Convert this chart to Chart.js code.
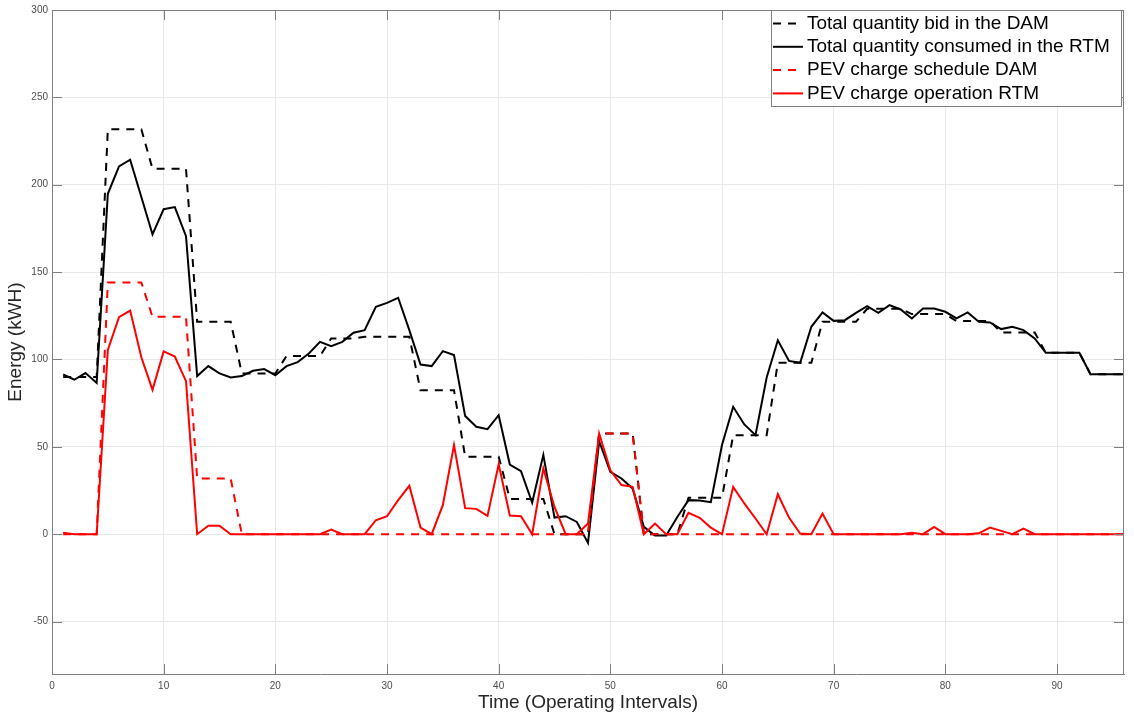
<!DOCTYPE html>
<html>
<head>
<meta charset="utf-8">
<script src="https://cdn.jsdelivr.net/npm/chart.js@4"></script>
<style>
  html, body { margin: 0; padding: 0; background: #fff; }
  #wrap { width: 1134px; height: 715px; }
</style>
</head>
<body>
<div id="wrap"><canvas id="chart" width="1134" height="715"></canvas></div>
<script>
// operating intervals 1..96
const intervals = Array.from({ length: 96 }, (_, i) => i + 1);

const damTotal = [
  89.9, 89.9, 89.9, 89.9, 231.7, 231.7, 231.7, 231.7, 209.2, 209.2, 209.2, 209.2,
  121.6, 121.6, 121.6, 121.6, 92, 92, 92, 92, 102, 102, 102, 102,
  112, 112, 112, 113, 113, 113, 113, 113, 82.4, 82.4, 82.4, 82.4,
  44.3, 44.3, 44.3, 44.3, 20.2, 20.2, 20.2, 20.2, 0, 0, 0, 0,
  57.6, 57.6, 57.6, 57.6, 0, 0, 0, 0, 20.8, 20.8, 20.8, 20.8,
  56.7, 56.7, 56.7, 56.7, 98.1, 98.1, 98.1, 98.1, 121.6, 121.6, 121.6, 121.6,
  129, 129, 129, 129, 126, 126, 126, 126, 122, 122, 122, 122,
  115.5, 115.5, 115.5, 115.5, 103.8, 103.8, 103.8, 103.8, 91.6, 91.6, 91.6, 91.6
];

const rtmTotal = [
  91.4, 88.4, 92.2, 86.6, 194.8, 210.5, 214.3, 193, 171.6, 186, 187.2, 170.6,
  90.5, 96.2, 92, 89.7, 90.5, 93.5, 94.5, 91, 96.2, 98.5, 103.4, 110.1,
  107.6, 110.1, 115.3, 116.8, 130.2, 132.4, 135.3, 116.8, 97.1, 96.2, 104.8, 102.5,
  67.6, 61.5, 60.1, 68.1, 39.9, 36.1, 18, 45.4, 9.5, 10.3, 7, -5,
  53.2, 35.7, 31.9, 26.1, 4.2, -0.8, -0.8, 9.9, 19.5, 19.3, 18.3, 51,
  72.9, 62.8, 56.7, 89.7, 111, 99.2, 98.1, 118.7, 126.9, 122.1, 122.5, 126.7,
  130.5, 126.7, 131.1, 128.6, 123.5, 129.2, 129.2, 127.3, 123.5, 126.9, 121.6, 121.2,
  117.4, 118.7, 116.8, 112, 103.8, 103.8, 103.8, 103.8, 91.6, 91.6, 91.6, 91.6
];

const pevDam = [
  0, 0, 0, 0, 144, 144, 144, 144, 124.4, 124.4, 124.4, 124.4,
  31.9, 31.9, 31.9, 31.9, 0, 0, 0, 0, 0, 0, 0, 0,
  0, 0, 0, 0, 0, 0, 0, 0, 0, 0, 0, 0,
  0, 0, 0, 0, 0, 0, 0, 0, 0, 0, 0, 0,
  57.6, 57.6, 57.6, 57.6, 0, 0, 0, 0, 0, 0, 0, 0,
  0, 0, 0, 0, 0, 0, 0, 0, 0, 0, 0, 0,
  0, 0, 0, 0, 0, 0, 0, 0, 0, 0, 0, 0,
  0, 0, 0, 0, 0, 0, 0, 0, 0, 0, 0, 0
];

const pevRtm = [
  0.8, 0, 0, 0, 105.5, 124.2, 128, 101.3, 82.6, 104.6, 101.7, 87.6,
  0, 4.8, 4.8, 0, 0, 0, 0, 0, 0, 0, 0, 0,
  2.7, 0, 0, 0, 8, 10.3, 19.5, 27.7, 3.8, 0, 16.6, 51,
  14.9, 14.5, 10.5, 40, 10.7, 10.3, 0, 37.6, 15.6, 0, 0, 6.1,
  57.6, 36.6, 28.1, 27.1, 0, 6.1, 0, 0, 12.2, 9.4, 3.8, 0,
  27.1, 17.6, 9, 0, 22.9, 9.5, 0.4, 0, 11.8, 0, 0, 0,
  0, 0, 0, 0, 0.8, 0, 4.2, 0, 0, 0, 0.5, 3.8,
  1.9, 0, 3.2, 0, 0, 0, 0, 0, 0, 0, 0, 0
];

const xTicks = [0, 10, 20, 30, 40, 50, 60, 70, 80, 90];
const yTicks = [-50, 0, 50, 100, 150, 200, 250, 300];

const FONT = '"Liberation Sans", Arial, Helvetica, sans-serif';
const AXIS = '#7f7f7f';

const toPoints = values => values.map((v, i) => ({ x: intervals[i], y: v }));

// box round the axes, with MATLAB-style ticks pointing inwards
const framePlugin = {
  id: 'frame',
  afterDatasetsDraw(chart) {
    const { ctx, chartArea: a, scales } = chart;
    ctx.save();
    ctx.strokeStyle = AXIS;
    ctx.lineWidth = 1;
    ctx.beginPath();
    ctx.moveTo(a.left, a.top + 0.5);
    ctx.lineTo(a.right, a.top + 0.5);
    ctx.moveTo(a.right - 0.5, a.top);
    ctx.lineTo(a.right - 0.5, a.bottom);
    xTicks.forEach(v => {
      const x = Math.round(scales.x.getPixelForValue(v)) + 0.5;
      ctx.moveTo(x, a.bottom);
      ctx.lineTo(x, a.bottom - 10);
      ctx.moveTo(x, a.top);
      ctx.lineTo(x, a.top + 10);
    });
    yTicks.forEach(v => {
      const y = Math.round(scales.y.getPixelForValue(v)) + 0.5;
      ctx.moveTo(a.left, y);
      ctx.lineTo(a.left + 10, y);
      ctx.moveTo(a.right, y);
      ctx.lineTo(a.right - 10, y);
    });
    ctx.stroke();
    ctx.restore();
  }
};

// boxed legend in the top right corner
const legendPlugin = {
  id: 'boxLegend',
  afterDraw(chart) {
    const { ctx } = chart;
    const box = { left: 771, top: 10, right: 1122, bottom: 107 };
    ctx.save();
    ctx.fillStyle = '#fff';
    ctx.fillRect(box.left, box.top, box.right - box.left, box.bottom - box.top);
    ctx.strokeStyle = AXIS;
    ctx.lineWidth = 1;
    ctx.strokeRect(box.left + 0.5, box.top + 0.5, box.right - box.left - 1, box.bottom - box.top - 1);
    ctx.font = '19px ' + FONT;
    ctx.textBaseline = 'middle';
    chart.data.datasets.forEach((ds, i) => {
      const y = 23.5 + i * 23.3;
      ctx.strokeStyle = ds.borderColor;
      ctx.lineWidth = ds.borderWidth;
      ctx.setLineDash(ds.borderDash || []);
      ctx.beginPath();
      ctx.moveTo(773, y);
      ctx.lineTo(803, y);
      ctx.stroke();
      ctx.setLineDash([]);
      ctx.fillStyle = '#000';
      ctx.fillText(ds.label, 807, y);
    });
    ctx.restore();
  }
};

new Chart(document.getElementById('chart'), {
  type: 'line',
  data: {
    datasets: [
      {
        label: 'Total quantity bid in the DAM',
        data: toPoints(damTotal),
        borderColor: '#000',
        borderWidth: 2,
        borderDash: [8, 7],
        order: 4
      },
      {
        label: 'Total quantity consumed in the RTM',
        data: toPoints(rtmTotal),
        borderColor: '#000',
        borderWidth: 2,
        order: 3
      },
      {
        label: 'PEV charge schedule DAM',
        data: toPoints(pevDam),
        borderColor: '#ff0000',
        borderWidth: 2,
        borderDash: [8, 7],
        order: 2
      },
      {
        label: 'PEV charge operation RTM',
        data: toPoints(pevRtm),
        borderColor: '#ff0000',
        borderWidth: 2,
        order: 1
      }
    ]
  },
  options: {
    responsive: false,
    animation: false,
    events: [],
    layout: { padding: { top: 10, right: 10, left: 0, bottom: 0 } },
    elements: {
      point: { radius: 0 },
      line: { tension: 0, fill: false }
    },
    plugins: {
      legend: { display: false },
      tooltip: { enabled: false }
    },
    scales: {
      x: {
        type: 'linear',
        min: 0,
        max: 96,
        afterBuildTicks: s => { s.ticks = xTicks.map(v => ({ value: v })); },
        afterFit: s => { s.height = 41; },
        grid: { color: '#e8e8e8', drawTicks: false },
        border: { color: AXIS },
        ticks: { color: '#4d4d4d', font: { family: FONT, size: 10 }, padding: 6, maxRotation: 0 },
        title: {
          display: true,
          text: 'Time (Operating Intervals)',
          color: '#262626',
          font: { family: FONT, size: 19 },
          padding: { top: 0, bottom: 1 }
        }
      },
      y: {
        min: -80,
        max: 300,
        afterBuildTicks: s => { s.ticks = yTicks.map(v => ({ value: v })); },
        afterFit: s => { s.width = 52; },
        grid: { color: '#e8e8e8', drawTicks: false },
        border: { color: AXIS },
        ticks: { color: '#4d4d4d', font: { family: FONT, size: 10 }, padding: 4 },
        title: {
          display: true,
          text: 'Energy (kWH)',
          color: '#262626',
          font: { family: FONT, size: 19 },
          padding: { top: 4, bottom: 0 }
        }
      }
    }
  },
  plugins: [framePlugin, legendPlugin]
});
</script>
</body>
</html>
